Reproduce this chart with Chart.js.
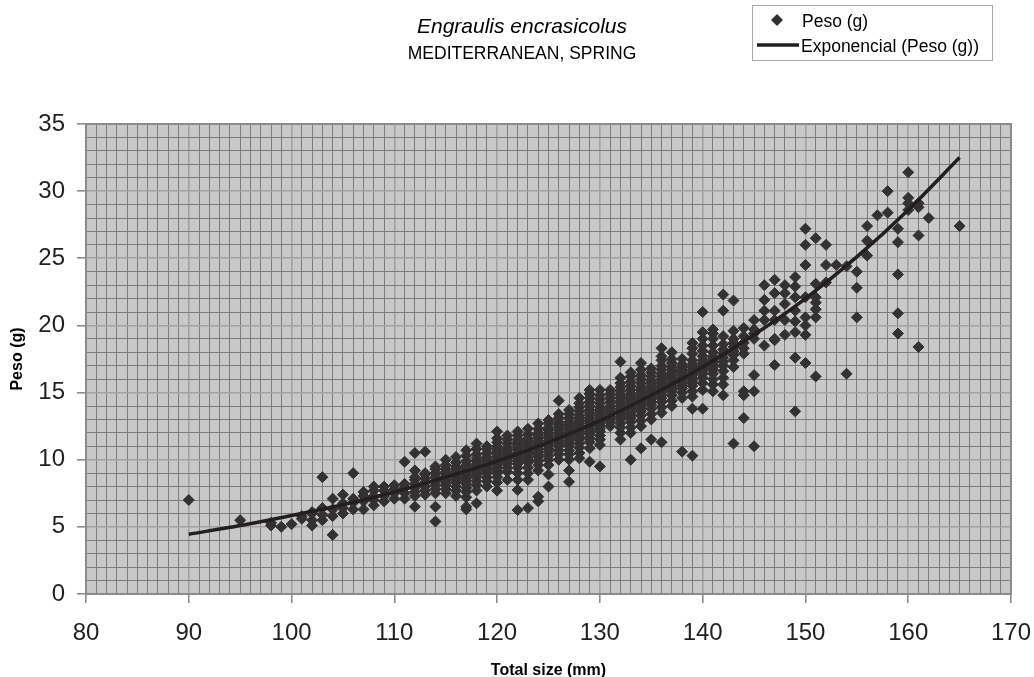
<!DOCTYPE html>
<html>
<head>
<meta charset="utf-8">
<script src="https://cdn.jsdelivr.net/npm/chart.js@4"></script>
<style>
  body { margin: 0; background: #fff; }
  #wrap { width: 1034px; height: 677px; }
</style>
</head>
<body>
<div id="wrap"><canvas id="chart" width="1034" height="677"></canvas></div>
<script>
// total size (mm) and the weights (g) measured at each size
const sizesMm = [90, 95, 98, 99, 100, 101, 102, 103, 104, 105, 106, 107, 108, 109, 110, 111, 112, 113, 114, 115,
  116, 117, 118, 119, 120, 121, 122, 123, 124, 125, 126, 127, 128, 129, 130, 131, 132, 133, 134, 135,
  136, 137, 138, 139, 140, 141, 142, 143, 144, 145, 146, 147, 148, 149, 150, 151, 152, 153, 154, 155,
  156, 157, 158, 159, 160, 161, 162, 165];
const weightsG = [
  [7.0],
  [5.5],
  [5.1, 5.3],
  [5.0],
  [5.2],
  [5.6, 5.8],
  [5.1, 5.5, 6.0, 6.1],
  [5.5, 5.9, 6.4, 8.7],
  [4.4, 5.8, 6.3, 7.1],
  [6.0, 6.4, 6.75, 7.4],
  [6.3, 6.8, 7.1, 9.0],
  [6.3, 6.9, 7.3, 7.6],
  [6.6, 7.0, 7.3, 7.7, 8.0],
  [6.9, 7.3, 7.7, 8.0],
  [7.1, 7.5, 7.8, 8.1],
  [7.1, 7.5, 7.9, 8.2, 9.85],
  [6.5, 7.3, 7.6, 7.9, 8.2, 8.5, 8.7, 9.2, 10.5],
  [7.4, 7.7, 8.0, 8.3, 8.6, 8.9, 9.0, 10.6],
  [5.4, 6.5, 7.5, 7.8, 8.1, 8.4, 8.7, 9.0, 9.3, 9.5],
  [7.5, 7.8, 8.1, 8.3, 8.5, 8.7, 8.9, 9.1, 9.3, 9.6, 10.0],
  [7.3, 7.7, 8.0, 8.3, 8.5, 8.7, 8.9, 9.1, 9.3, 9.5, 9.8, 10.2],
  [6.3, 6.5, 7.2, 7.6, 7.9, 8.2, 8.4, 8.6, 8.8, 9.0, 9.2, 9.4, 9.6, 9.9, 10.3, 10.7],
  [6.75, 7.7, 8.1, 8.4, 8.7, 8.9, 9.1, 9.3, 9.5, 9.7, 9.9, 10.1, 10.4, 10.8, 11.2],
  [8.0, 8.4, 8.7, 9.0, 9.2, 9.4, 9.6, 9.8, 10.0, 10.2, 10.5, 10.8, 11.0],
  [7.7, 8.3, 8.7, 9.0, 9.2, 9.4, 9.6, 9.8, 10.0, 10.2, 10.4, 10.6, 10.8, 11.0, 11.3, 11.6, 12.1],
  [8.5, 9.1, 9.4, 9.7, 9.9, 10.1, 10.3, 10.5, 10.7, 10.9, 11.2, 11.5, 11.8],
  [6.25, 7.75, 8.5, 9.0, 9.4, 9.7, 9.9, 10.1, 10.3, 10.5, 10.7, 10.9, 11.1, 11.3, 11.5, 11.8, 12.1],
  [6.4, 8.5, 9.0, 9.4, 9.8, 10.0, 10.2, 10.4, 10.6, 10.8, 11.0, 11.2, 11.4, 11.6, 11.9, 12.3],
  [6.9, 7.25, 9.2, 9.6, 9.9, 10.2, 10.4, 10.6, 10.8, 11.0, 11.2, 11.4, 11.6, 11.8, 12.0, 12.3, 12.7],
  [8.0, 8.9, 9.6, 10.0, 10.3, 10.6, 10.8, 11.0, 11.2, 11.4, 11.6, 11.8, 12.0, 12.2, 12.4, 12.7, 12.95],
  [10.0, 10.4, 10.7, 11.0, 11.2, 11.4, 11.6, 11.8, 12.0, 12.2, 12.4, 12.6, 12.8, 13.1, 13.4, 14.4],
  [8.35, 9.2, 10.0, 10.4, 10.7, 11.0, 11.2, 11.4, 11.6, 11.8, 12.0, 12.2, 12.4, 12.6, 12.8, 13.1, 13.4, 13.7],
  [10.1, 10.5, 10.9, 11.2, 11.5, 11.7, 11.9, 12.1, 12.3, 12.5, 12.7, 12.9, 13.1, 13.3, 13.6, 13.9, 14.2, 14.6],
  [9.85, 10.85, 11.3, 11.6, 11.9, 12.1, 12.3, 12.5, 12.7, 12.9, 13.1, 13.3, 13.5, 13.7, 14.0, 14.3, 14.6, 14.9, 15.2],
  [9.5, 11.1, 11.5, 11.8, 12.1, 12.3, 12.5, 12.7, 12.9, 13.1, 13.3, 13.5, 13.7, 13.9, 14.2, 14.5, 14.8, 15.2],
  [12.5, 12.8, 13.0, 13.2, 13.4, 13.6, 13.8, 14.0, 14.3, 14.6, 14.9, 15.2],
  [11.5, 12.0, 12.4, 12.7, 13.0, 13.2, 13.4, 13.6, 13.8, 14.0, 14.2, 14.4, 14.6, 14.8, 15.1, 15.4, 15.7, 16.1, 17.3],
  [10.0, 12.0, 12.4, 12.8, 13.1, 13.3, 13.5, 13.7, 13.9, 14.1, 14.3, 14.5, 14.7, 14.9, 15.2, 15.5, 15.8, 16.2, 16.5],
  [10.85, 12.5, 12.9, 13.3, 13.6, 13.8, 14.0, 14.2, 14.4, 14.6, 14.8, 15.0, 15.2, 15.4, 15.7, 16.0, 16.3, 16.7, 17.2],
  [11.5, 13.0, 13.4, 13.8, 14.1, 14.3, 14.5, 14.7, 14.9, 15.1, 15.3, 15.5, 15.7, 15.9, 16.2, 16.5, 16.8],
  [11.3, 13.5, 13.9, 14.3, 14.6, 14.8, 15.0, 15.2, 15.4, 15.6, 15.8, 16.0, 16.2, 16.4, 16.7, 17.0, 17.4, 17.7, 18.3],
  [14.0, 14.4, 14.8, 15.1, 15.3, 15.5, 15.7, 15.9, 16.1, 16.3, 16.5, 16.7, 16.9, 17.2, 17.5, 18.0],
  [10.6, 14.6, 15.0, 15.3, 15.5, 15.7, 15.9, 16.1, 16.3, 16.5, 16.7, 16.9, 17.1, 17.5],
  [10.3, 13.8, 14.7, 15.1, 15.5, 15.7, 15.9, 16.1, 16.3, 16.5, 16.7, 16.9, 17.1, 17.4, 17.9, 18.3, 18.7],
  [13.8, 15.2, 15.7, 16.1, 16.4, 16.6, 16.8, 17.0, 17.2, 17.4, 17.7, 18.1, 18.5, 19.0, 19.5, 21.0],
  [15.1, 15.6, 16.0, 16.4, 16.7, 16.9, 17.1, 17.3, 17.5, 17.7, 18.0, 18.5, 19.0, 19.4, 19.7],
  [14.8, 15.6, 16.1, 16.6, 17.0, 17.3, 17.6, 17.9, 18.2, 18.6, 19.2, 21.1, 22.3],
  [11.2, 16.9, 17.4, 17.8, 18.1, 18.4, 18.7, 19.0, 19.6, 21.85],
  [13.1, 14.8, 15.1, 17.9, 18.3, 18.7, 19.2, 19.8],
  [11.0, 15.1, 16.3, 19.0, 19.4, 19.7, 20.4],
  [18.5, 20.4, 21.1, 21.9, 23.0],
  [17.05, 18.9, 19.0, 20.4, 21.1, 22.4, 23.4],
  [19.3, 20.4, 21.6, 22.4, 23.0],
  [13.6, 17.6, 19.5, 20.3, 21.1, 22.1, 22.9, 23.6],
  [17.2, 19.3, 20.0, 20.6, 22.1, 24.5, 26.0, 27.2],
  [16.2, 20.6, 21.2, 21.7, 22.1, 23.1, 26.5],
  [23.2, 24.5, 26.0],
  [24.5],
  [16.4, 24.4],
  [20.6, 22.8, 24.0],
  [25.2, 26.3, 27.4],
  [28.2],
  [28.4, 30.0],
  [19.4, 20.9, 23.8, 26.2, 27.2],
  [28.6, 29.1, 29.5, 31.4],
  [18.4, 26.7, 28.8, 29.1],
  [28.0],
  [27.4]
];

// exponential trend line
const trendSizes = [90, 95, 100, 105, 110, 115, 120, 125, 130, 135, 140, 145, 150, 155, 160, 165];
const trendWeights = [4.45, 5.1, 5.85, 6.65, 7.6, 8.7, 9.9, 11.3, 12.9, 14.8, 16.9, 19.3, 22.0, 25.1, 28.6, 32.5];

const xTickLabels = [80, 90, 100, 110, 120, 130, 140, 150, 160, 170];
const yTickLabels = [0, 5, 10, 15, 20, 25, 30, 35];

const FONT = "'Liberation Sans', Arial, sans-serif";
const MARK = '#333132';
const LINE = '#231f20';
const PLOT_BG = '#c8c8c9';
const MINOR = '#7c7c7c';
const MAJOR = '#a2a2a2';
const AXIS = '#8c8c8c';

const points = [];
sizesMm.forEach((s, i) => weightsG[i].forEach(w => points.push({ x: s, y: w })));
const trend = trendSizes.map((s, i) => ({ x: s, y: trendWeights[i] }));

const everyUnit = (scale) => {
    const ticks = [];
    for (let v = scale.min; v <= scale.max; v++) ticks.push({ value: v });
    scale.ticks = ticks;
};

const plotFrame = {
    id: 'plotFrame',
    beforeDraw(chart) {
        const { ctx, chartArea: a } = chart;
        ctx.save();
        ctx.fillStyle = PLOT_BG;
        ctx.fillRect(a.left, a.top, a.right - a.left, a.bottom - a.top);
        ctx.restore();
    },
    afterDraw(chart) {
        const { ctx, chartArea: a } = chart;
        ctx.save();
        ctx.strokeStyle = AXIS;
        ctx.lineWidth = 2;
        ctx.strokeRect(a.left, a.top, a.right - a.left, a.bottom - a.top);

        // title
        ctx.fillStyle = '#000';
        ctx.textAlign = 'center';
        ctx.textBaseline = 'alphabetic';
        ctx.font = `italic 21px ${FONT}`;
        ctx.fillText('Engraulis encrasicolus', 522, 33);
        ctx.font = `17.5px ${FONT}`;
        ctx.fillText('MEDITERRANEAN, SPRING', 522, 59);

        // legend
        ctx.fillStyle = '#fff';
        ctx.fillRect(752.5, 5.5, 240, 55);
        ctx.strokeStyle = '#a8a8a8';
        ctx.lineWidth = 1;
        ctx.strokeRect(752.5, 5.5, 240, 55);
        ctx.fillStyle = MARK;
        ctx.beginPath();
        ctx.moveTo(771, 20); ctx.lineTo(777, 14); ctx.lineTo(783, 20); ctx.lineTo(777, 26);
        ctx.closePath();
        ctx.fill();
        ctx.strokeStyle = LINE;
        ctx.lineWidth = 3.5;
        ctx.beginPath();
        ctx.moveTo(757, 45); ctx.lineTo(799, 45);
        ctx.stroke();
        ctx.fillStyle = '#000';
        ctx.textAlign = 'left';
        ctx.font = `17.5px ${FONT}`;
        ctx.fillText('Peso (g)', 802, 27);
        ctx.fillText('Exponencial (Peso (g))', 801, 52);
        ctx.restore();
    }
};

new Chart(document.getElementById('chart'), {
    type: 'scatter',
    data: {
        datasets: [
            {
                label: 'Exponencial (Peso (g))',
                type: 'line',
                data: trend,
                borderColor: LINE,
                borderWidth: 3.5,
                pointRadius: 0,
                tension: 0.4,
                cubicInterpolationMode: 'monotone',
                fill: false,
                order: 0
            },
            {
                label: 'Peso (g)',
                data: points,
                pointStyle: 'rectRot',
                pointRadius: 5.5,
                pointBorderWidth: 1,
                backgroundColor: MARK,
                borderColor: MARK,
                order: 1
            }
        ]
    },
    options: {
        responsive: false,
        animation: false,
        layout: { padding: { top: 124, right: 23, left: 0, bottom: 0 } },
        plugins: { legend: { display: false }, tooltip: { enabled: false } },
        scales: {
            x: {
                type: 'linear',
                min: 80,
                max: 170,
                afterBuildTicks: everyUnit,
                afterFit: (s) => { s.height = 83; s.paddingLeft = 0; s.paddingRight = 0; },
                ticks: {
                    autoSkip: false,
                    maxRotation: 0,
                    padding: 16,
                    color: '#231f20',
                    font: { family: FONT, size: 24 },
                    callback: (v) => xTickLabels.includes(v) ? String(v) : ''
                },
                grid: {
                    color: (c) => c.tick && c.tick.value % 10 === 0 ? MAJOR : MINOR,
                    lineWidth: (c) => c.tick && c.tick.value % 10 === 0 ? 1.6 : 1,
                    tickLength: 9,
                    tickColor: (c) => c.tick && xTickLabels.includes(c.tick.value) ? AXIS : 'rgba(0,0,0,0)'
                },
                border: { color: AXIS, width: 2 },
                title: {
                    display: true,
                    text: 'Total size (mm)',
                    color: '#000',
                    font: { family: FONT, size: 16, weight: 'bold' },
                    padding: { top: 0, bottom: -3 }
                }
            },
            y: {
                type: 'linear',
                min: 0,
                max: 35,
                afterBuildTicks: everyUnit,
                afterFit: (s) => { s.width = 86; s.paddingTop = 0; s.paddingBottom = 0; },
                ticks: {
                    autoSkip: false,
                    padding: 12,
                    color: '#231f20',
                    font: { family: FONT, size: 24 },
                    callback: (v) => yTickLabels.includes(v) ? String(v) : ''
                },
                grid: {
                    color: (c) => c.tick && c.tick.value % 5 === 0 ? MAJOR : MINOR,
                    lineWidth: (c) => c.tick && c.tick.value % 5 === 0 ? 1.6 : 1,
                    tickLength: 9,
                    tickColor: (c) => c.tick && yTickLabels.includes(c.tick.value) ? AXIS : 'rgba(0,0,0,0)'
                },
                border: { color: AXIS, width: 2 },
                title: {
                    display: true,
                    text: 'Peso (g)',
                    color: '#000',
                    font: { family: FONT, size: 16, weight: 'bold' },
                    padding: { top: 8, bottom: 0 }
                }
            }
        }
    },
    plugins: [plotFrame]
});
</script>
</body>
</html>
